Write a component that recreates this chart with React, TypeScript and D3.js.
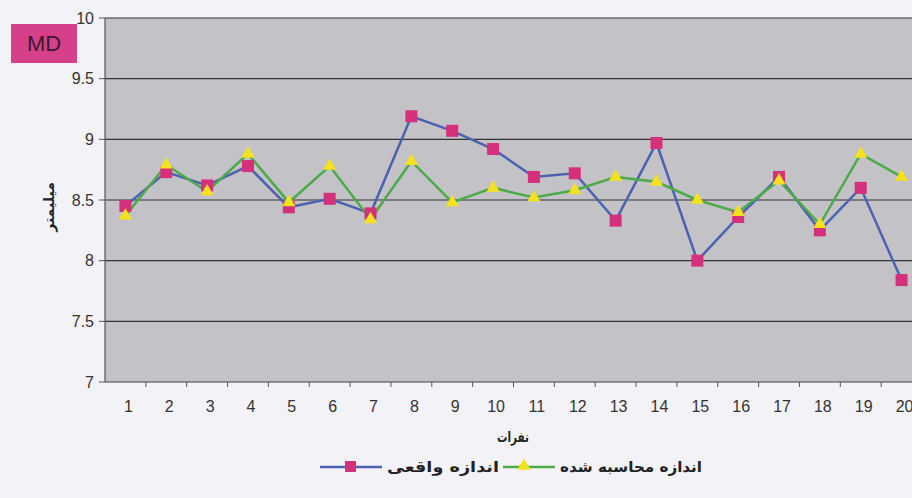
import React from "react";
import * as d3 from "d3";

const categories = ["1","2","3","4","5","6","7","8","9","10","11","12","13","14","15","16","17","18","19","20"];
const actualValues = [8.45, 8.73, 8.62, 8.78, 8.44, 8.51, 8.39, 9.19, 9.07, 8.92, 8.69, 8.72, 8.33, 8.97, 8.0, 8.36, 8.69, 8.25, 8.6, 7.84];
const calculatedValues = [8.37, 8.79, 8.57, 8.88, 8.48, 8.78, 8.34, 8.82, 8.48, 8.6, 8.52, 8.58, 8.69, 8.65, 8.5, 8.4, 8.66, 8.3, 8.88, 8.69];
const yTicks = [7, 7.5, 8, 8.5, 9, 9.5, 10];
const seriesNames = ["اندازه واقعی", "اندازه محاسبه شده"];
const xTitle = "نفرات";
const yTitle = "میلیمتر";
const badge = "MD";

const W = 912, H = 498;
const left = 105, right = 922, top = 18, bottom = 382;

export default function App() {
  const x = d3.scaleBand<string>().domain(categories).range([left, right]);
  const y = d3.scaleLinear().domain([7, 10]).range([bottom, top]);
  const cx = (i: number) => (x(categories[i]) as number) + x.bandwidth() / 2;
  const line = d3.line<number>().x((_, i) => cx(i)).y(d => y(d));
  const tri = d3.symbol().type(d3.symbolTriangle).size(75)();
  const font = "'Liberation Sans', Arial, sans-serif";
  const arab = "'DejaVu Sans', sans-serif";
  const blue = "#4c62b0";
  const green = "#4caa48";
  const mag = "#d4307c";
  const yel = "#f4e21c";
  return (
    <svg width={W} height={H} style={{ position: "absolute", left: 0, top: 0, background: "#f3f2f6" }}>
      <rect x={0} y={0} width={W} height={H} fill="#f3f2f6" />
      <rect x={left} y={top} width={right - left} height={bottom - top} fill="#c3c2c7" />
      {yTicks.map(t => (
        <g key={t}>
          {t > 7 && <line x1={left} x2={right} y1={y(t)} y2={y(t)} stroke="#333337" strokeWidth={1.1} />}
          <line x1={left - 6} x2={left} y1={y(t)} y2={y(t)} stroke="#555" strokeWidth={1} />
          <text x={left - 11} y={y(t)} dy="0.35em" textAnchor="end" fontFamily={font} fontSize={16} fill="#333">{t}</text>
        </g>
      ))}
      <line x1={left} x2={left} y1={top} y2={bottom} stroke="#555" strokeWidth={1.2} />
      <line x1={left} x2={right} y1={bottom} y2={bottom} stroke="#444" strokeWidth={1.2} />
      {categories.map((c, i) => (
        <g key={c}>
          <line x1={(x(c) as number) + x.bandwidth()} x2={(x(c) as number) + x.bandwidth()} y1={bottom} y2={bottom + 5} stroke="#555" />
          <text x={cx(i) + 3} y={bottom + 30} textAnchor="middle" fontFamily={font} fontSize={16} fill="#333">{c}</text>
        </g>
      ))}
      <path d={line(actualValues) as string} fill="none" stroke={blue} strokeWidth={2.5} />
      <path d={line(calculatedValues) as string} fill="none" stroke={green} strokeWidth={2.5} />
      {actualValues.map((v, i) => (
        <rect key={"s" + i} x={cx(i) - 6} y={y(v) - 6} width={12} height={12} fill={mag} />
      ))}
      {calculatedValues.map((v, i) => (
        <path key={"t" + i} d={tri as string} transform={`translate(${cx(i)},${y(v)})`} fill={yel} />
      ))}
      <rect x={11} y={24} width={66} height={39} fill="#d6408a" />
      <text x={44} y={43} dy="0.36em" textAnchor="middle" fontFamily={font} fontSize={22} fill="#3a1a2a">{badge}</text>
      <text transform={`translate(49,207) rotate(-90)`} textAnchor="middle" dy="0.35em" fontFamily={arab} fontWeight="bold" fontSize={14} fill="#222">{yTitle}</text>
      <text x={513} y={442} textAnchor="middle" fontFamily={arab} fontWeight="bold" fontSize={14} textLength={32} lengthAdjust="spacingAndGlyphs" fill="#222">{xTitle}</text>
      <g>
        <line x1={320} x2={382} y1={467} y2={467} stroke={blue} strokeWidth={2.5} />
        <rect x={345} y={461} width={11} height={11} fill={mag} />
        <text x={443} y={467} dy="0.35em" textAnchor="middle" fontFamily={arab} fontWeight="bold" fontSize={15} textLength={112} lengthAdjust="spacingAndGlyphs" fill="#222">{seriesNames[0]}</text>
        <line x1={503} x2={555} y1={467} y2={467} stroke={green} strokeWidth={2.5} />
        <path d={tri as string} transform="translate(524,466)" fill={yel} />
        <text x={631} y={467} dy="0.35em" textAnchor="middle" fontFamily={arab} fontWeight="bold" fontSize={15} textLength={142} lengthAdjust="spacingAndGlyphs" fill="#222">{seriesNames[1]}</text>
      </g>
    </svg>
  );
}
